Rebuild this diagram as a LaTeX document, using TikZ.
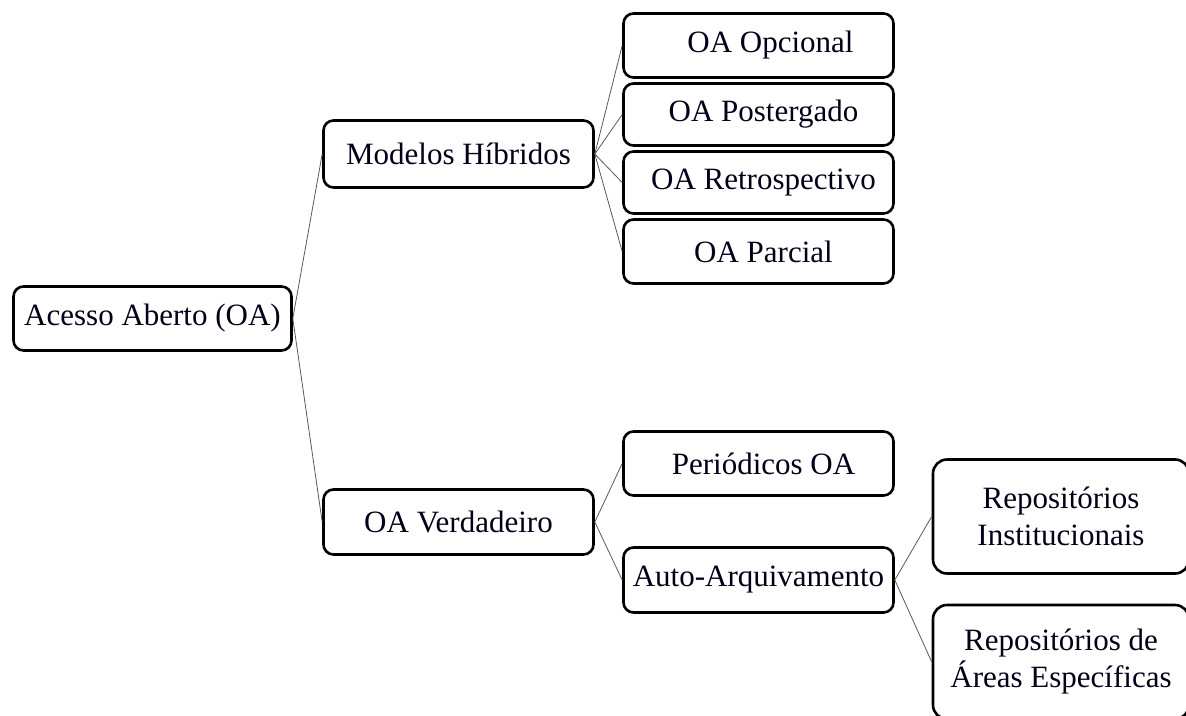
\documentclass[tikz,border=0pt]{standalone}
\usepackage{fontspec}
\setmainfont{Liberation Serif}
\begin{document}
\begin{tikzpicture}[x=1pt,y=-1pt,
  box/.style={draw=black, line width=2.6pt, rounded corners=10pt, minimum width=270pt,
    minimum height=64pt, align=center, font=\fontsize{31}{37}\selectfont,
    text=black!90!blue, inner sep=0pt, anchor=center},
  link/.style={draw=black!65, line width=0.8pt}]
\useasboundingbox (0,0) rectangle (1186,715);
\node[box, minimum width=278pt] (a) at (152.5,318.5) {Acesso Aberto (OA)};
\node[box, minimum height=67pt] (mh) at (458.5,154) {Modelos Híbridos};
\node[box, minimum height=65pt] (ov) at (458.5,522) {OA Verdadeiro};
\node[box] (o1) at (758.5,45.5) {\hspace*{24pt}OA Opcional};
\node[box, minimum height=62pt] (o2) at (758.5,114.5) {\hspace*{10pt}OA Postergado};
\node[box, minimum height=62pt] (o3) at (758.5,182.5) {\hspace*{10pt}OA Retrospectivo};
\node[box] (o4) at (758.5,251.5) {\hspace*{10pt}OA Parcial};
\node[box] (p) at (758.5,463.5) {\hspace*{10pt}Periódicos OA};
\node[box, minimum height=65pt] (aa) at (758.5,580) {Auto-Arquivamento};
\node[box, minimum width=256pt, minimum height=114pt, rounded corners=14pt] (r1) at (1061,516.5) {Repositórios\\Institucionais};
\node[box, minimum width=256pt, minimum height=114pt, rounded corners=14pt] (r2) at (1061,662) {Repositórios de\\Áreas Específicas};
\draw[link] (a.east) -- (mh.west);
\draw[link] (a.east) -- (ov.west);
\draw[link] (mh.east) -- (o1.west);
\draw[link] (mh.east) -- (o2.west);
\draw[link] (mh.east) -- (o3.west);
\draw[link] (mh.east) -- (o4.west);
\draw[link] (ov.east) -- (p.west);
\draw[link] (ov.east) -- (aa.west);
\draw[link] (aa.east) -- (r1.west);
\draw[link] (aa.east) -- (r2.west);
\end{tikzpicture}
\end{document}
